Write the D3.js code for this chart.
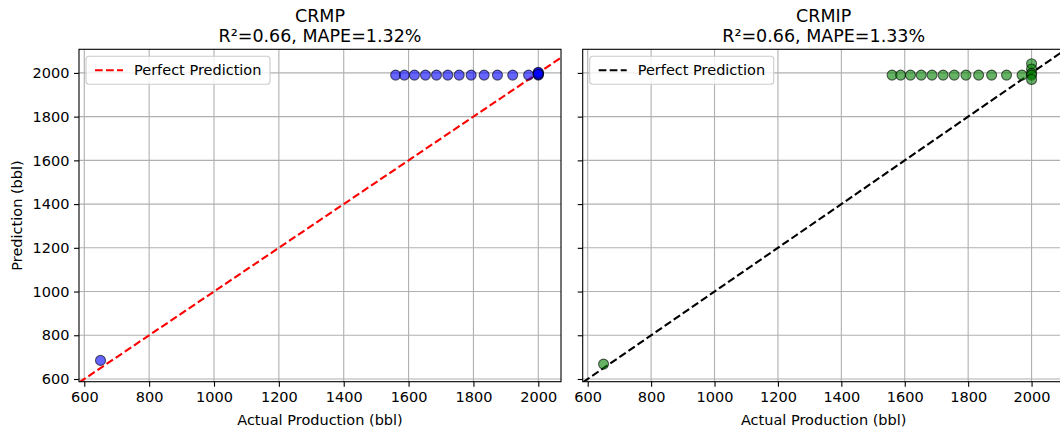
<!DOCTYPE html>
<html>
<head>
<meta charset="utf-8">
<script src="https://cdn.jsdelivr.net/npm/d3@7"></script>
<style>
  html, body { margin: 0; padding: 0; background: #fff; }
  svg { display: block; font-family: "DejaVu Sans", sans-serif; }
</style>
</head>
<body>
<svg id="chart" width="1060" height="434"></svg>
<script>
// ---- data ----
const actual = [650, 1560, 1587, 1618, 1652, 1686, 1721, 1756, 1793, 1833, 1874, 1921, 1970,
                2000, 2000, 2000, 2000, 2000];
const crmpPred = [685, 1990, 1990, 1990, 1990, 1990, 1990, 1990, 1990, 1990, 1990, 1990, 1990,
                  1990, 1995, 2000, 2003, 1993];
const crmipPred = [668, 1990, 1990, 1990, 1990, 1990, 1990, 1990, 1990, 1990, 1990, 1990, 1990,
                   2042, 2018, 1998, 1990, 1970];
const xTicks = [600, 800, 1000, 1200, 1400, 1600, 1800, 2000];
const yTicks = [600, 800, 1000, 1200, 1400, 1600, 1800, 2000];
const panels = [
  { name: "CRMP", metrics: "R\u00b2=0.66, MAPE=1.32%", pred: crmpPred,
    fill: "#0000ff", line: "#ff0000", xDomain: [583.7, 2070], left: 79, right: 561, yLabels: true },
  { name: "CRMIP", metrics: "R\u00b2=0.66, MAPE=1.33%", pred: crmipPred,
    fill: "#008000", line: "#000000", xDomain: [584.2, 2104.5], left: 582.7, right: 1064.7, yLabels: false }
];
const yDomain = [587.6, 2108];
const plotTop = 49.3, plotBottom = 381.7;
const fs = 14.5, tfs = 17.5;

const svg = d3.select("#chart");
const defs = svg.append("defs");

panels.forEach((p, i) => {
  const x = d3.scaleLinear().domain(p.xDomain).range([p.left, p.right]);
  const y = d3.scaleLinear().domain(yDomain).range([plotBottom, plotTop]);
  const g = svg.append("g");
  const clipId = "clip" + i;
  defs.append("clipPath").attr("id", clipId).append("rect")
    .attr("x", p.left).attr("y", plotTop).attr("width", p.right - p.left).attr("height", plotBottom - plotTop);

  // grid
  g.append("g").selectAll("line").data(xTicks).join("line")
    .attr("x1", d => x(d)).attr("x2", d => x(d)).attr("y1", plotTop).attr("y2", plotBottom)
    .attr("stroke", "#b0b0b0").attr("stroke-width", 1.1);
  g.append("g").selectAll("line").data(yTicks).join("line")
    .attr("y1", d => y(d)).attr("y2", d => y(d)).attr("x1", p.left).attr("x2", p.right)
    .attr("stroke", "#b0b0b0").attr("stroke-width", 1.1);

  // perfect line
  const lineDom = [500, 2200];
  g.append("line")
    .attr("clip-path", `url(#${clipId})`)
    .attr("x1", x(lineDom[0])).attr("y1", y(lineDom[0]))
    .attr("x2", x(lineDom[1])).attr("y2", y(lineDom[1]))
    .attr("stroke", p.line).attr("stroke-width", 2.1)
    .attr("stroke-dasharray", "7.7,3.3");

  // points
  const pts = actual.map((a, k) => ({ a, b: p.pred[k] }));
  g.append("g").attr("clip-path", `url(#${clipId})`)
    .selectAll("circle").data(pts).join("circle")
    .attr("cx", d => x(d.a)).attr("cy", d => y(d.b)).attr("r", 5)
    .attr("fill", p.fill).attr("fill-opacity", 0.6)
    .attr("stroke", "#000").attr("stroke-opacity", 0.6).attr("stroke-width", 1.1);

  // axes
  const xAxis = d3.axisBottom(x).tickValues(xTicks).tickSize(5).tickPadding(4.6).tickFormat(d3.format("d"));
  const gx = g.append("g").attr("transform", `translate(0,${plotBottom})`).call(xAxis);
  const yAxis = d3.axisLeft(y).tickValues(yTicks).tickSize(5).tickPadding(4.6)
    .tickFormat(p.yLabels ? d3.format("d") : () => "");
  const gy = g.append("g").attr("transform", `translate(${p.left},0)`).call(yAxis);
  [gx, gy].forEach(a => {
    a.select(".domain").remove();
    a.selectAll(".tick line").attr("stroke", "#000").attr("stroke-width", 1.1);
    a.selectAll(".tick text").attr("fill", "#000").attr("font-size", fs)
      .attr("font-family", "DejaVu Sans, sans-serif");
  });

  // frame
  g.append("rect").attr("x", p.left).attr("y", plotTop)
    .attr("width", p.right - p.left).attr("height", plotBottom - plotTop)
    .attr("fill", "none").attr("stroke", "#000").attr("stroke-width", 1.1);

  // titles
  const cx = (p.left + p.right) / 2;
  g.append("text").attr("x", cx).attr("y", 22).attr("text-anchor", "middle")
    .attr("font-size", tfs).text(p.name);
  g.append("text").attr("x", cx).attr("y", 41.5).attr("text-anchor", "middle")
    .attr("font-size", tfs).text(p.metrics);
  g.append("text").attr("x", cx).attr("y", 425).attr("text-anchor", "middle")
    .attr("font-size", fs).text("Actual Production (bbl)");
  if (p.yLabels) {
    g.append("text").attr("transform", `translate(22,${(plotTop + plotBottom) / 2}) rotate(-90)`)
      .attr("text-anchor", "middle").attr("font-size", fs).text("Prediction (bbl)");
  }

  // legend
  const lx = p.left + 7, ly = plotTop + 7;
  g.append("rect").attr("x", lx).attr("y", ly).attr("width", 184).attr("height", 28)
    .attr("rx", 3).attr("fill", "#fff").attr("fill-opacity", 0.8)
    .attr("stroke", "#cccccc").attr("stroke-width", 1.1);
  g.append("line").attr("x1", lx + 9).attr("x2", lx + 37).attr("y1", ly + 14).attr("y2", ly + 14)
    .attr("stroke", p.line).attr("stroke-width", 2.1).attr("stroke-dasharray", "7.7,3.3");
  g.append("text").attr("x", lx + 48).attr("y", ly + 19).attr("font-size", fs).text("Perfect Prediction");
});
</script>
</body>
</html>
